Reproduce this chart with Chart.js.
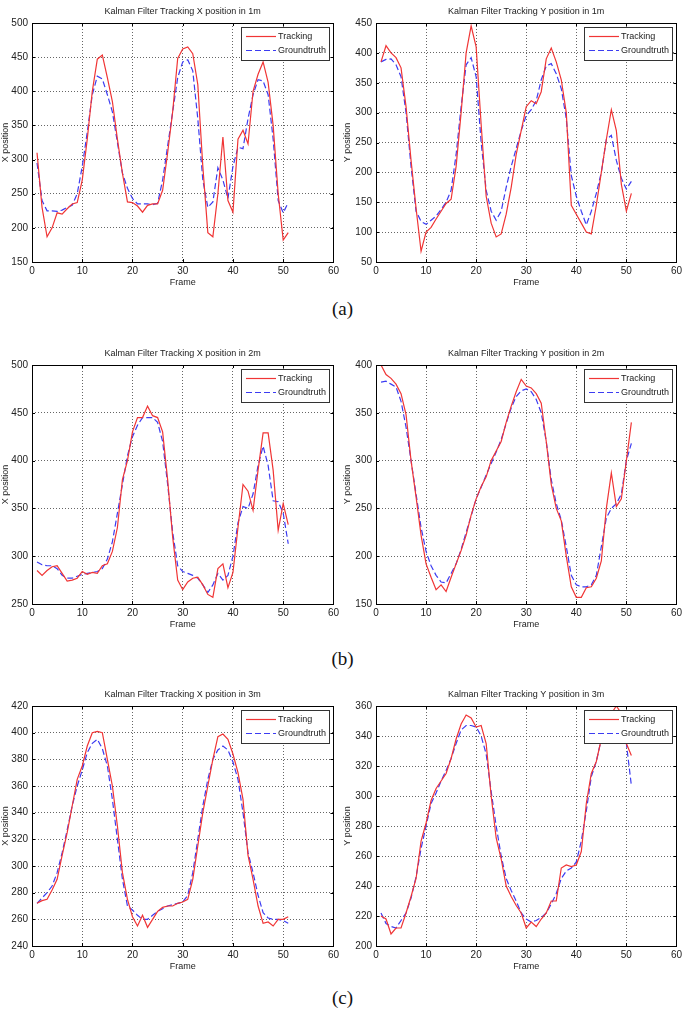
<!DOCTYPE html>
<html>
<head>
<meta charset="utf-8">
<script src="https://cdn.jsdelivr.net/npm/chart.js@4.4.0/dist/chart.umd.min.js"></script>
<style>
body { margin: 0; background: #fff; }
#page { position: relative; width: 685px; height: 1025px; overflow: hidden; }
canvas { position: absolute; }
.sub { position: absolute; left: 0; width: 685px; text-align: center; font-family: "Liberation Serif", "Times New Roman", serif; font-size: 19px; color: #111; line-height: 20px; }
</style>
</head>
<body>
<div id="page">
  <canvas id="x1" width="342" height="292" style="left:0;top:0"></canvas>
  <canvas id="y1" width="343" height="292" style="left:342px;top:0"></canvas>
  <div class="sub" style="top:299px">(a)</div>
  <canvas id="x2" width="342" height="292" style="left:0;top:342px"></canvas>
  <canvas id="y2" width="343" height="292" style="left:342px;top:342px"></canvas>
  <div class="sub" style="top:649px">(b)</div>
  <canvas id="x3" width="342" height="293" style="left:0;top:683px"></canvas>
  <canvas id="y3" width="343" height="293" style="left:342px;top:683px"></canvas>
  <div class="sub" style="top:988px">(c)</div>
</div>
<script>
const frames = [1,2,3,4,5,6,7,8,9,10,11,12,13,14,15,16,17,18,19,20,21,22,23,24,25,26,
    27,28,29,30,31,32,33,34,35,36,37,38,39,40,41,42,43,44,45,46,47,48,49,50,51];

// 1m
const trackX1 = [310,230,187,200,222,220,228,235,237,270,330,400,447,453,420,385,330,280,238,237,232,223,233,235,235,255,
    310,370,448,462,465,455,410,290,193,187,250,333,240,223,330,343,323,400,425,443,413,350,250,182,193];
const truthX1 = [295,240,225,225,224,226,230,233,250,290,340,395,422,418,395,370,325,280,258,243,235,235,235,234,236,270,
    320,370,420,443,446,430,360,270,230,238,288,270,243,290,318,316,360,395,417,415,395,330,240,222,237];
const trackY1 = [385,412,400,392,375,310,220,140,68,100,108,122,135,148,155,210,300,400,445,410,280,160,115,92,97,130,
    175,230,270,310,320,315,335,390,408,385,355,300,145,130,115,100,97,145,200,255,305,270,180,135,165];
const truthY1 = [385,389,390,380,360,300,210,135,118,113,120,127,138,150,170,230,310,380,392,360,250,170,135,120,135,175,
    210,240,270,295,305,320,355,378,382,365,340,290,195,160,135,112,135,165,200,255,262,220,190,172,185];

// 2m
const trackX2 = [285,280,285,289,290,282,274,275,277,284,281,283,282,290,292,305,330,380,400,430,445,445,457,447,445,430,
    380,320,275,265,273,277,278,270,260,257,287,292,267,283,330,375,368,348,390,429,429,390,327,355,333];
const truthX2 = [294,291,290,290,287,280,277,277,279,281,282,283,284,287,297,315,345,375,405,425,437,445,445,445,440,420,
    375,325,290,284,282,280,277,270,262,270,282,275,280,300,335,352,350,365,395,415,395,358,357,345,313];
const trackY2 = [400,390,386,380,370,348,300,262,222,192,178,165,170,163,178,192,206,222,243,260,273,283,300,310,320,340,
    357,372,385,378,376,370,360,320,275,250,237,200,168,157,157,167,168,177,195,250,287,252,260,300,340];
const truthY2 = [382,383,380,377,362,335,300,265,230,205,190,180,173,172,182,192,207,225,242,260,272,285,297,309,322,339,
    355,367,373,375,372,364,350,320,280,255,238,210,180,170,168,168,170,180,210,240,250,255,265,300,318];

// 3m
const trackX3 = [272,274,275,282,290,308,325,345,365,375,390,400,401,400,380,360,330,295,275,262,255,263,254,260,266,269,
    270,270,272,273,275,290,315,340,360,380,397,399,395,384,370,350,308,290,270,257,258,255,260,260,262];
const truthX3 = [272,276,280,285,295,310,327,345,360,372,385,392,395,388,375,350,320,290,270,267,263,260,260,263,266,268,
    270,271,272,273,278,295,320,345,365,380,387,390,387,378,365,340,310,295,278,265,261,260,260,259,257];
const trackY3 = [220,218,208,212,212,222,233,245,270,282,297,305,310,315,325,338,348,354,352,346,347,335,300,272,258,240,
    233,227,222,212,216,213,218,222,230,230,252,254,253,254,263,295,315,323,338,350,355,360,355,335,327];
const truthY3 = [222,215,213,212,217,222,232,246,265,280,295,302,310,317,325,335,344,347,347,346,340,328,303,280,260,245,
    237,230,222,218,216,217,219,222,228,235,245,250,252,256,270,290,313,323,338,348,350,350,348,335,307];

const redLine = '#f03535';
const blueLine = '#3c3cf2';
const fontFam = '"Liberation Sans", Arial, sans-serif';

// matlab style box, inward ticks, title, axis labels and legend
const frameBox = {
    id: 'frameBox',
    afterDraw(chart, args, opts) {
        const ctx = chart.ctx;
        const a = chart.chartArea;
        const sx = chart.scales.x, sy = chart.scales.y;
        ctx.save();
        ctx.strokeStyle = '#000';
        ctx.lineWidth = 1;
        ctx.beginPath();
        sx.ticks.forEach(function(t) {
            const px = Math.round(sx.getPixelForValue(t.value)) + 0.5;
            ctx.moveTo(px, a.bottom); ctx.lineTo(px, a.bottom - 3);
            ctx.moveTo(px, a.top); ctx.lineTo(px, a.top + 3);
        });
        sy.ticks.forEach(function(t) {
            const py = Math.round(sy.getPixelForValue(t.value)) + 0.5;
            ctx.moveTo(a.left, py); ctx.lineTo(a.left + 3, py);
            ctx.moveTo(a.right, py); ctx.lineTo(a.right - 3, py);
        });
        ctx.stroke();
        ctx.strokeRect(Math.round(a.left) + 0.5, Math.round(a.top) + 0.5,
            Math.round(a.right - a.left), Math.round(a.bottom - a.top));

        ctx.fillStyle = '#222';
        ctx.font = '9px ' + fontFam;
        ctx.textAlign = 'center';
        ctx.textBaseline = 'middle';
        ctx.fillText(opts.title, (a.left + a.right) / 2, a.top - 11);
        ctx.fillText('Frame', (a.left + a.right) / 2, a.bottom + 21);
        ctx.save();
        ctx.translate(opts.yLabelX, (a.top + a.bottom) / 2);
        ctx.rotate(-Math.PI / 2);
        ctx.fillText(opts.yLabel, 0, 0);
        ctx.restore();

        // legend
        const lx = Math.round(a.right) - 92, ly = Math.round(a.top) + 4;
        ctx.fillStyle = '#fff';
        ctx.fillRect(lx, ly, 88, 33);
        ctx.strokeStyle = '#333';
        ctx.strokeRect(lx + 0.5, ly + 0.5, 88, 33);
        ctx.lineWidth = 1.2;
        ctx.strokeStyle = redLine;
        ctx.beginPath();
        ctx.moveTo(lx + 5, ly + 9.5); ctx.lineTo(lx + 35, ly + 9.5);
        ctx.stroke();
        ctx.strokeStyle = blueLine;
        ctx.setLineDash([6, 3]);
        ctx.beginPath();
        ctx.moveTo(lx + 5, ly + 23.5); ctx.lineTo(lx + 35, ly + 23.5);
        ctx.stroke();
        ctx.setLineDash([]);
        ctx.fillStyle = '#222';
        ctx.textAlign = 'left';
        ctx.fillText('Tracking', lx + 37, ly + 10);
        ctx.fillText('Groundtruth', lx + 37, ly + 24);
        ctx.restore();
    }
};

function points(vals) {
    return frames.map(function(f, i) { return {x: f, y: vals[i]}; });
}

function makeChart(id, title, yLabel, yMin, yMax, yStep, track, truth, leftW, rightPad) {
    const ctx = document.getElementById(id).getContext('2d');
    const config = {
        type: 'line',
        data: {
            datasets: [{
                label: 'Tracking',
                data: points(track),
                borderColor: redLine,
                borderWidth: 1.2,
                pointRadius: 0,
                tension: 0
            }, {
                label: 'Groundtruth',
                data: points(truth),
                borderColor: blueLine,
                borderWidth: 1.2,
                borderDash: [6, 3],
                pointRadius: 0,
                tension: 0
            }]
        },
        options: {
            responsive: false,
            animation: false,
            devicePixelRatio: 1,
            layout: { padding: { top: 23, right: rightPad, bottom: 0, left: 0 } },
            plugins: {
                legend: { display: false },
                tooltip: { enabled: false },
                frameBox: { title: title, yLabel: yLabel, yLabelX: 6 }
            },
            scales: {
                x: {
                    type: 'linear', min: 0, max: 60,
                    afterFit: function(s) { s.height = 30; },
                    ticks: { stepSize: 10, padding: 3, color: '#222', font: { family: fontFam, size: 10 } },
                    grid: { color: '#666', drawTicks: false },
                    border: { display: false, dash: [1, 2] }
                },
                y: {
                    min: yMin, max: yMax,
                    afterFit: function(s) { s.width = leftW; },
                    ticks: { stepSize: yStep, padding: 4, color: '#222', font: { family: fontFam, size: 10 } },
                    grid: { color: '#666', drawTicks: false },
                    border: { display: false, dash: [1, 2] }
                }
            }
        },
        plugins: [frameBox]
    };
    return new Chart(ctx, config);
}

window.onload = function() {
    makeChart('x1', 'Kalman Filter Tracking X position in 1m', 'X position', 150, 500, 50, trackX1, truthX1, 32, 7);
    makeChart('y1', 'Kalman Filter Tracking Y position in 1m', 'Y position', 50, 450, 50, trackY1, truthY1, 34, 6);
    makeChart('x2', 'Kalman Filter Tracking X position in 2m', 'X position', 250, 500, 50, trackX2, truthX2, 32, 7);
    makeChart('y2', 'Kalman Filter Tracking Y position in 2m', 'Y position', 150, 400, 50, trackY2, truthY2, 34, 6);
    makeChart('x3', 'Kalman Filter Tracking X position in 3m', 'X position', 240, 420, 20, trackX3, truthX3, 32, 7);
    makeChart('y3', 'Kalman Filter Tracking Y position in 3m', 'Y position', 200, 360, 20, trackY3, truthY3, 34, 6);
};
</script>
</body>
</html>
